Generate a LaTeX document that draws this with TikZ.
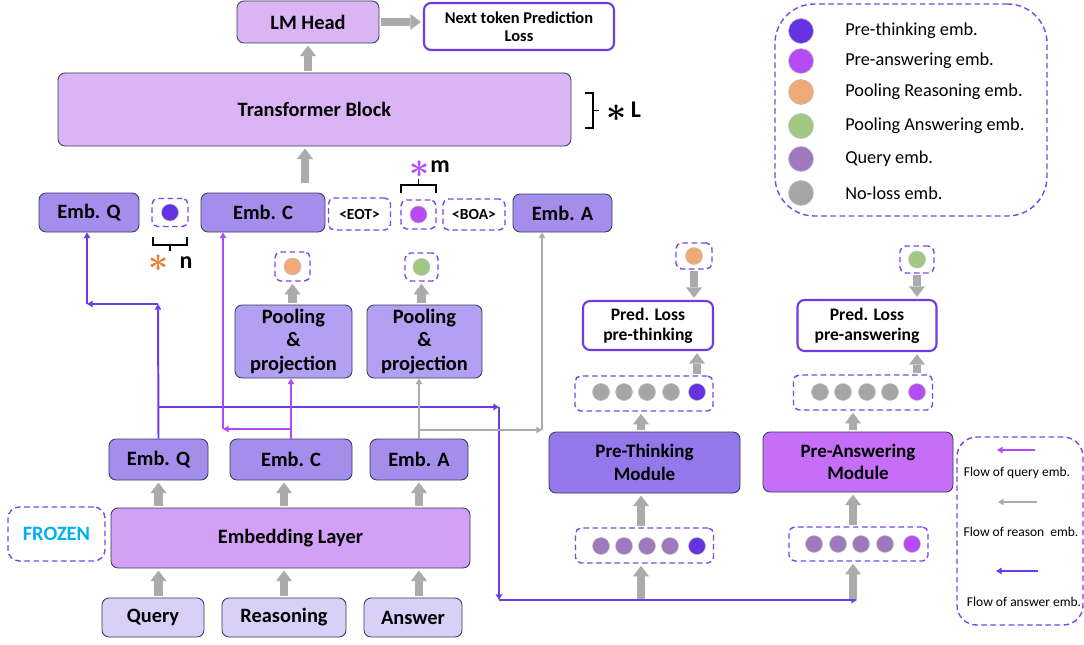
\documentclass[tikz,border=0pt]{standalone}
\usepackage{fontspec}
\usepackage{amsmath}
\setmainfont{Carlito}
\usetikzlibrary{arrows.meta,positioning,calc}

\definecolor{headc}{HTML}{DAB4F5}
\definecolor{embc}{HTML}{A58DEC}
\definecolor{poolc}{HTML}{B3A0F2}
\definecolor{layerc}{HTML}{D2A0F4}
\definecolor{inc}{HTML}{D8D0F6}
\definecolor{thinkc}{HTML}{9478EB}
\definecolor{answc}{HTML}{C66EF8}
\definecolor{bordc}{HTML}{323C5A}
\definecolor{dashc}{HTML}{7846EB}
\definecolor{lossc}{HTML}{6E3CE6}
\definecolor{dthink}{HTML}{6432E1}
\definecolor{dansw}{HTML}{B44BF5}
\definecolor{dpoolr}{HTML}{F0AA78}
\definecolor{dpoola}{HTML}{A0C882}
\definecolor{dquery}{HTML}{A078BE}
\definecolor{dgray}{HTML}{A6A6A6}
\definecolor{qflowc}{HTML}{6A3BE8}
\definecolor{pflowc}{HTML}{B04CF5}
\definecolor{gflowc}{HTML}{ABABAB}
\definecolor{frozc}{HTML}{00B0F0}
\definecolor{astc}{HTML}{ED7D31}

\newcommand{\boxfont}{\bfseries\fontsize{14.5}{17}\selectfont}
\newcommand{\modfont}{\bfseries\fontsize{13.5}{16}\selectfont}
\newcommand{\lossfont}{\bfseries\fontsize{12.5}{14}\selectfont}
\newcommand{\bigast}[1]{\textcolor{#1}{\fontsize{23}{23}\selectfont$\boldsymbol{\ast}$}}

\tikzset{
  sz/.style 2 args={minimum width=#1*0.025cm, minimum height=#2*0.025cm},
  blk/.style={draw=bordc, line width=0.6pt, rounded corners=5pt, align=center, inner sep=0pt, font=\boxfont},
  emb/.style={blk, fill=embc},
  lossbox/.style={draw=lossc, line width=1.5pt, fill=white, rounded corners=5pt, align=center, inner sep=0pt, font=\lossfont},
  dbox/.style={draw=dashc, line width=1pt, dash pattern=on 4pt off 2.5pt, rounded corners=4pt, inner sep=0pt},
  tok/.style={dbox, font=\bfseries\fontsize{11}{12}\selectfont},
  emdot/.style={circle, fill=#1, draw=black!25, line width=0.4pt, minimum size=17*0.025cm, inner sep=0pt},
  fat/.style={draw=gflowc, line width=5.7pt, -{Triangle[width=11.5pt,length=7.5pt,line width=0pt]}, shorten <=1pt, shorten >=1.5pt},
  qflow/.style={draw=qflowc, line width=1.4pt, -{Triangle[length=4pt,width=4.5pt]}},
  pflow/.style={draw=pflowc, line width=1.4pt, -{Triangle[length=4pt,width=4.5pt]}},
  gflow/.style={draw=gflowc, line width=1.4pt, -{Triangle[length=4pt,width=4.5pt]}},
  legtxt/.style={anchor=west, inner sep=0pt, font=\fontsize{13}{15}\selectfont},
  flowtxt/.style={inner sep=0pt, font=\fontsize{9.6}{11}\selectfont},
}

\begin{document}
\begin{tikzpicture}[x=0.025cm, y=-0.025cm]
\useasboundingbox (0,0) rectangle (1084,644);

% LLM part
\node[blk, fill=headc, sz={142}{42}] (lmhead) at (308,22) {LM Head};
\node[lossbox, sz={190}{47}, font=\bfseries\fontsize{11.7}{12.8}\selectfont] (nextloss) at (519,26.5) {Next token Prediction\\Loss};
\node[blk, fill=headc, sz={513}{73}] (tblock) at (314.5,109.5) {Transformer Block};
\draw[fat] (lmhead.east) -- (nextloss.west |- lmhead.east);
\draw[fat] (tblock.north -| lmhead) -- (lmhead.south);
\coordinate (tin) at (305,184);
\draw[fat] (tin) -- (tblock.south -| tin);
\draw[line width=1.2pt] (585,93) -- (593,93) -- (593,128) -- (585,128) (593,110.5) -- (599,110.5);
\node (astL) at (617,113) {\bigast{black}};
\node[font=\bfseries\fontsize{17}{17}\selectfont] (repL) at (636,110) {L};

% input sequence
\node[emb, sz={100}{39}] (embQ) at (89,212.5) {Emb. Q};
\node[dbox, sz={36}{28}] (dotQbox) at (170,212.5) {};
\node[emdot=dthink] (dotQ) at (dotQbox) {};
\node[emb, sz={124}{39}] (embC) at (263,212.5) {Emb. C};
\node[tok, sz={62}{32}] (eot) at (359.5,214) {<EOT>};
\node[dbox, sz={35}{29}] (dotCbox) at (418.5,214.5) {};
\node[emdot=dansw] (dotC) at (dotCbox) {};
\node[tok, sz={62}{31}] (boa) at (474,214.5) {<BOA>};
\node[emb, sz={99}{38}] (embA) at (562.5,213) {Emb. A};
\draw[line width=1.2pt] (153,237) -- (153,245) -- (187,245) -- (187,237) (170,245) -- (170,251);
\node (astn) at (159,263) {\bigast{astc}};
\node[font=\bfseries\fontsize{17}{17}\selectfont] (repn) at (186,263) {n};
\draw[line width=1.2pt] (401,193) -- (401,185) -- (436,185) -- (436,193) (418.5,185) -- (418.5,179);
\node (astm) at (420,169) {\bigast{dansw}};
\node[font=\bfseries\fontsize{17}{17}\selectfont] (repm) at (440,167) {m};

% pooling
\node[dbox, sz={35}{29}] (poolRbox) at (292.5,266.5) {};
\node[emdot=dpoolr] (poolRdot) at (poolRbox) {};
\node[dbox, sz={33}{28}] (poolAbox) at (421.5,267) {};
\node[emdot=dpoola] (poolAdot) at (poolAbox) {};
\node[blk, fill=poolc, sz={117}{73}] (pool1) at (293.5,341.5) {Pooling\\\&\\projection};
\node[blk, fill=poolc, sz={115}{73}] (pool2) at (424.5,341.5) {Pooling\\\&\\projection};
\draw[fat] (pool1.north -| poolRbox) -- (poolRbox.south);
\draw[fat] (pool2.north -| poolAbox) -- (poolAbox.south);

% embedding
\node[emb, sz={99}{41}] (embQ2) at (158.5,459.5) {Emb. Q};
\node[emb, sz={122}{41}] (embC2) at (291,459.5) {Emb. C};
\node[emb, sz={98}{41}] (embA2) at (419,459.5) {Emb. A};
\node[blk, fill=layerc, sz={359}{60}] (layer) at (290.5,538) {Embedding Layer};
\node[dbox, rounded corners=8pt, sz={97}{54}, text=frozc, font=\boxfont] (frozen) at (56.5,534) {FROZEN};
\node[blk, fill=inc, sz={102}{39}] (query) at (153,617.5) {Query};
\node[blk, fill=inc, sz={124}{39}] (reason) at (284,617.5) {Reasoning};
\node[blk, fill=inc, sz={98}{39}] (answer) at (413,617.5) {Answer};
\foreach \a/\b in {embQ2/embQ2, reason/embC2, embA2/embA2} {
  \draw[fat] (layer.north -| \a) -- (\b.south -| \a);
}
\foreach \a/\b in {query/embQ2, reason/reason, answer/embA2} {
  \draw[fat] (\a.north -| \b) -- (layer.south -| \b);
}

% flows
\coordinate (qup) at (158,304);
\coordinate (qleft) at (87,304);
\coordinate (qmid) at (158,407);
\coordinate (qright) at (499,407);
\coordinate (qlow) at (499,600);
\coordinate (qend) at (857,600);
\draw[qflow] (embQ2.north) -- (qup);
\draw[qflow] (qup) -- (qleft);
\draw[qflow] (qleft) -- (qleft |- embQ.south);
\draw[qflow] (qmid) -- (qright);
\draw[qflow] (qright) -- (qlow);
\draw[qflow] (qlow) -- (qend);
\coordinate (pfork) at (291,429);
\coordinate (pleft) at (223,429);
\draw[pflow] (embC2.north) -- (pool1.south -| embC2);
\draw[pflow] (pfork) -- (pleft);
\draw[pflow] (pleft) -- (pleft |- embC.south);
\coordinate (gfork) at (419,430);
\coordinate (gright) at (542,430);
\draw[gflow] (embA2.north) -- (pool2.south -| embA2);
\draw[gflow] (gfork) -- (gright);
\draw[gflow] (gright) -- (gright |- embA.south);

% pre-thinking side
\node[dbox, sz={36}{26}] (thinkObox) at (694,256) {};
\node[emdot=dpoolr] (thinkOdot) at (thinkObox) {};
\node[lossbox, sz={130}{49}] (loss1) at (648,325.5) {Pred. Loss\\pre-thinking};
\node[dbox, sz={138}{35}] (row1u) at (644,393.5) {};
\foreach \xx/\cc [count=\i] in {601/dgray,624/dgray,647/dgray,671/dgray,697/dthink}
  \node[emdot=\cc] (row1u\i) at (\xx,392) {};
\node[blk, fill=thinkc, sz={191}{61}, font=\modfont] (think) at (644.5,462.5) {Pre-Thinking\\Module};
\node[dbox, sz={138}{35}] (row1l) at (644.5,545.5) {};
\foreach \xx/\cc [count=\i] in {601/dquery,624/dquery,647/dquery,670/dquery,697/dthink}
  \node[emdot=\cc] (row1l\i) at (\xx,546) {};
\draw[fat] (thinkObox.south) -- (loss1.north -| thinkObox);
\draw[fat] (row1u.north -| row1u5) -- (loss1.south -| row1u5);
\draw[fat] (think.north -| 641,0) -- (row1u.south -| 641,0);
\draw[fat] (row1l.north -| 641,0) -- (think.south -| 641,0);
\draw[fat] (qend -| 641,0) -- (row1l.south -| 641,0);

% pre-answering side
\node[dbox, sz={34}{27}] (answGbox) at (917,259.5) {};
\node[emdot=dpoola] (answGdot) at (answGbox) {};
\node[lossbox, sz={139}{51}] (loss2) at (867,325.5) {Pred. Loss\\pre-answering};
\node[dbox, sz={139}{35}] (row2u) at (863,392.5) {};
\foreach \xx/\cc [count=\i] in {820/dgray,843/dgray,867/dgray,890/dgray,917/dansw}
  \node[emdot=\cc] (row2u\i) at (\xx,392) {};
\node[blk, fill=answc, sz={190}{60}, font=\modfont] (answ) at (858,462) {Pre-Answering\\Module};
\node[dbox, sz={139}{34}] (row2l) at (858.5,544) {};
\foreach \xx/\cc [count=\i] in {814/dquery,838/dquery,861/dquery,885/dquery,912/dansw}
  \node[emdot=\cc] (row2l\i) at (\xx,544) {};
\draw[fat] (answGbox.south) -- (loss2.north -| answGbox);
\draw[fat] (row2u.north -| row2u5) -- (loss2.south -| row2u5);
\draw[fat] (answ.north -| 853,0) -- (row2u.south -| 853,0);
\draw[fat] (row2l.north -| 853,0) -- (answ.south -| 853,0);
\draw[fat] (qend -| 853,0) -- (row2l.south -| 853,0);

% legends
\node[dbox, rounded corners=28pt, sz={272}{212}] (legend) at (911,110) {};
\foreach \cc/\yy/\txt [count=\i] in {dthink/31/Pre-thinking emb., dansw/61/Pre-answering emb., dpoolr/92/Pooling Reasoning emb., dpoola/126/Pooling Answering emb., dquery/159/Query emb., dgray/193/No-loss emb.} {
  \node[emdot=\cc, minimum size=25*0.025cm] (legdot\i) at (801,\yy) {};
  \node[legtxt] (legtxt\i) at (845,\yy) {\txt};
}
\node[dbox, rounded corners=14pt, sz={126}{188}] (flows) at (1020,531) {};
\coordinate (fq1) at (1035,450); \coordinate (fq2) at (997,450);
\coordinate (fr1) at (1037,502); \coordinate (fr2) at (998,502);
\coordinate (fa1) at (1038,571); \coordinate (fa2) at (996,571);
\draw[pflow] (fq1) -- (fq2);
\draw[gflow] (fr1) -- (fr2);
\draw[qflow] (fa1) -- (fa2);
\node[flowtxt] (flowq) at (1017,473) {Flow of query emb.};
\node[flowtxt] (flowr) at (1021,532) {Flow of reason\ \ emb.};
\node[flowtxt] (flowa) at (1024,602) {Flow of answer emb.};
\end{tikzpicture}
\end{document}
